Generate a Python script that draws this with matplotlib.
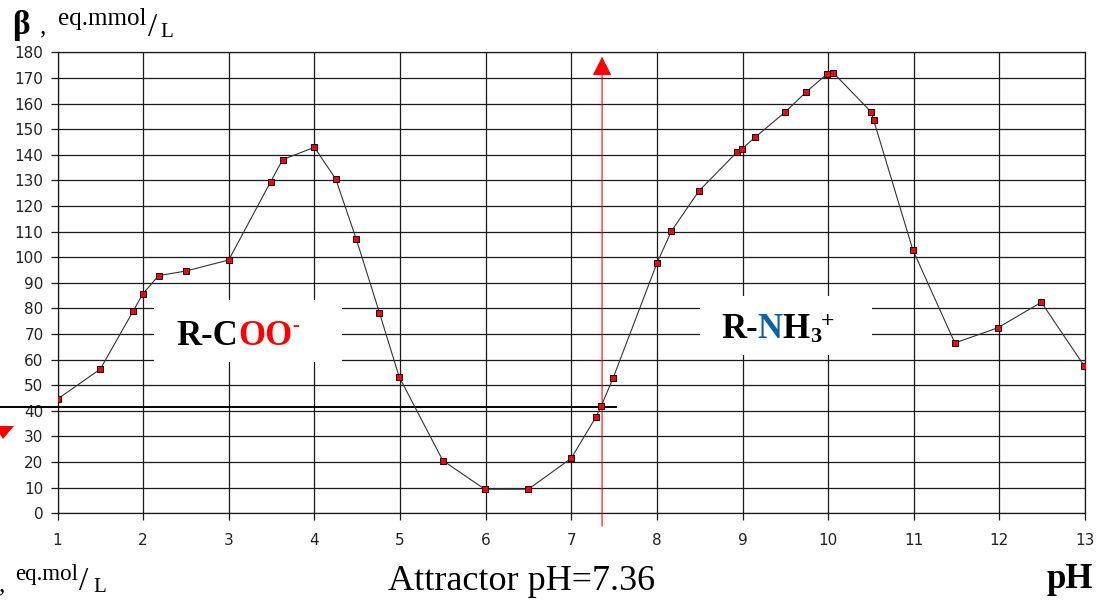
# -*- coding: utf-8 -*-

import matplotlib
matplotlib.use("Agg")
import matplotlib.pyplot as plt
from matplotlib.patches import Rectangle, Polygon
from matplotlib.transforms import IdentityTransform

# buffer capacity curve
ph = [1.0, 1.5, 1.886, 1.995, 2.18, 2.5, 3.0, 3.49, 3.63, 4.0, 4.25, 4.49,
      4.76, 4.99, 5.5, 5.99, 6.5, 7.0, 7.29, 7.35, 7.49, 8.0, 8.17, 8.49,
      8.94, 8.99, 9.15, 9.5, 9.74, 9.99, 10.06, 10.5, 10.53, 10.99, 11.48,
      11.98, 12.49, 12.99]
beta = [44.6, 56.3, 79.1, 85.6, 92.8, 94.6, 98.9, 129.5, 138.1, 142.9, 130.5,
        107.0, 78.3, 53.3, 20.6, 9.4, 9.4, 21.5, 37.7, 41.9, 52.9, 97.6,
        110.2, 125.8, 141.2, 142.2, 146.9, 156.7, 164.4, 171.6, 172.0, 156.8,
        153.7, 102.8, 66.5, 72.4, 82.4, 57.6]

x_ticks = list(range(1, 14))
y_ticks = list(range(0, 181, 10))

attractor_ph = 7.36
attractor_beta = 41.7

W, H = 1109, 602
SERIF = "Liberation Serif"

fig = plt.figure(figsize=(W / 100, H / 100), dpi=100)
ax = fig.add_axes([57.5 / W, 1 - 513.3 / H, (1085 - 57.5) / W, (513.3 - 52.3) / H])

ax.set_xlim(1, 13)
ax.set_ylim(0, 180)
ax.set_xticks(x_ticks)
ax.set_yticks(y_ticks)
ax.set_axisbelow(True)
ax.grid(True, color="#1a1a1a", linewidth=0.9)
for s in ax.spines.values():
    s.set_color("#1a1a1a")
    s.set_linewidth(0.9)
ax.tick_params(axis="both", direction="out", length=5, width=0.9,
               colors="#1a1a1a", labelsize=11, labelcolor="#222222")
ax.tick_params(axis="x", pad=9)
ax.tick_params(axis="y", pad=5)

ax.plot(ph, beta, color="#333333", linewidth=0.8, marker="s", markersize=4.6,
        markerfacecolor="#ff0000", markeredgecolor="#000000",
        markeredgewidth=0.7, zorder=4)

# attractor lines
ax.plot([0.2, 7.52], [attractor_beta, attractor_beta], color="black",
        linewidth=1.4, clip_on=False, zorder=3)
ax.annotate("", xy=(attractor_ph, 178.3), xytext=(attractor_ph, -5),
            arrowprops=dict(arrowstyle="-|>,head_length=0.6,head_width=0.3",
                            color="red", lw=0.8, mutation_scale=20,
                            shrinkA=0, shrinkB=0),
            annotation_clip=False, zorder=3)

# white boxes behind labels
ax.add_patch(Rectangle((2.13, 59.1), 2.19, 24.2, facecolor="white",
                       edgecolor="none", zorder=2))
ax.add_patch(Rectangle((8.5, 61.7), 2.01, 23.3, facecolor="white",
                       edgecolor="none", zorder=2))


def chem(x, y, pieces):
    prev = None
    for s, c, size, dy in pieces:
        if prev is None:
            prev = ax.text(x, y, s, color=c, fontsize=size, family=SERIF,
                           fontweight="bold", va="baseline", zorder=5)
        else:
            prev = ax.annotate(s, xy=(1, y), xycoords=(prev, "data"),
                               xytext=(0, dy), textcoords="offset points",
                               color=c, fontsize=size, family=SERIF,
                               fontweight="bold", va="baseline", zorder=5)


chem(2.384, 65.7, [("R-C", "black", 25, 0), ("OO", "#ff0000", 25, 0),
                   ("-", "#ff0000", 15, 10)])
chem(8.748, 68.4, [("R-", "black", 25, 0), ("N", "#0b62a8", 25, 0),
                   ("H", "black", 25, 0), ("3", "black", 16, -3),
                   ("+", "black", 17, 8)])


def ptext(x, y, s, size, bold=False, ha="left"):
    fig.text(x, H - y, s, transform=IdentityTransform(), fontsize=size,
             family=SERIF, fontweight="bold" if bold else "normal",
             ha=ha, va="baseline")


# top y label
ptext(12, 34, "β", 24, bold=True)
ptext(40, 33, ",", 18)
ptext(58, 25, "eq.mmol", 18)
ptext(148, 36, "/", 24)
ptext(160, 37, "L", 15)

# bottom partial label
ptext(5, 591, ",", 18, ha="right")
ptext(15, 580, "eq.mol", 16.5)
ptext(79, 590, "/", 24)
ptext(93, 592, "L", 15)

ptext(522, 590, "Attractor pH=7.36", 26, ha="center")
ptext(1093, 588, "pH", 25, bold=True, ha="right")

tri = Polygon([(-5, H - 426), (14, H - 426), (3, H - 439)], closed=True,
              facecolor="red", edgecolor="none", transform=IdentityTransform())
fig.add_artist(tri)

fig.savefig("out.png", dpi=100)
